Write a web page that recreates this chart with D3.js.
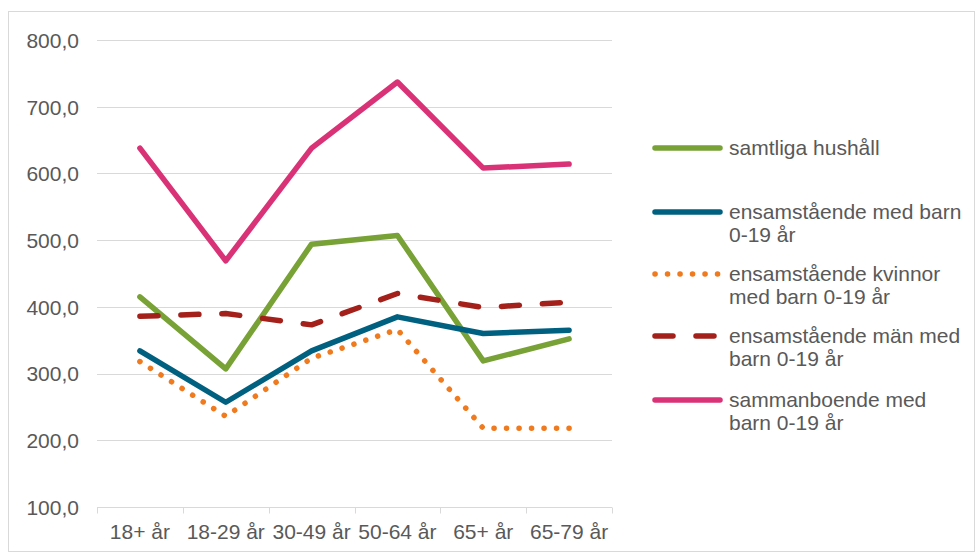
<!DOCTYPE html>
<html>
<head>
<meta charset="utf-8">
<script src="https://cdn.jsdelivr.net/npm/d3@7"></script>
<style>
  html, body { margin: 0; padding: 0; background: #ffffff; }
  svg { display: block; }
  text { font-family: "Liberation Sans", Arial, sans-serif; fill: #595959; }
</style>
</head>
<body>
<svg id="chart" width="976" height="553"></svg>
<script>
// Age groups along the x axis
const categories = ["18+ år", "18-29 år", "30-49 år", "50-64 år", "65+ år", "65-79 år"];

// Y axis tick values
const yTicks = [100, 200, 300, 400, 500, 600, 700, 800];

// Series values per age group
const samtligaHushall      = [415, 307, 494, 507, 319, 352];
const ensamstaendeMedBarn  = [334, 257, 334, 385, 360, 365];
const ensamstaendeKvinnor  = [318, 236, 323, 366, 218, 218];
const ensamstaendeMan      = [386, 390, 373, 420, 399, 407];
const sammanboendeMedBarn  = [638, 469, 638, 737, 608, 614];

const seriesNames = [
  "samtliga hushåll",
  "ensamstående med barn 0-19 år",
  "ensamstående kvinnor med barn 0-19 år",
  "ensamstående män med barn 0-19 år",
  "sammanboende med barn 0-19 år"
];

// Legend labels broken into lines
const legendLines = [
  ["samtliga hushåll"],
  ["ensamstående med barn", "0-19 år"],
  ["ensamstående kvinnor", "med barn 0-19 år"],
  ["ensamstående män med", "barn 0-19 år"],
  ["sammanboende med", "barn 0-19 år"]
];

const series = [
  { name: seriesNames[0], values: samtligaHushall,     color: "#78A136", dash: null },
  { name: seriesNames[1], values: ensamstaendeMedBarn, color: "#006080", dash: null },
  { name: seriesNames[2], values: ensamstaendeKvinnor, color: "#F07A1E", dash: "0.1,12.4" },
  { name: seriesNames[3], values: ensamstaendeMan,     color: "#A3211A", dash: "18,23" },
  { name: seriesNames[4], values: sammanboendeMedBarn, color: "#DA3276", dash: null }
];

const FONT_SIZE = 21;
const svg = d3.select("#chart");

// Outer frame
svg.append("rect")
  .attr("x", 8.5).attr("y", 11.5)
  .attr("width", 966).attr("height", 540)
  .attr("fill", "none")
  .attr("stroke", "#d9d9d9")
  .attr("stroke-width", 1);

const plot = { left: 97, right: 612, top: 40, bottom: 507 };

const x = d3.scaleBand()
  .domain(categories)
  .range([plot.left, plot.right])
  .padding(0);

const y = d3.scaleLinear()
  .domain([100, 800])
  .range([plot.bottom, plot.top]);

const xc = c => x(c) + x.bandwidth() / 2;

// Horizontal gridlines
svg.append("g")
  .selectAll("line")
  .data(yTicks.filter(t => t !== 100))
  .join("line")
  .attr("x1", plot.left).attr("x2", plot.right)
  .attr("y1", d => Math.round(y(d)) + 0.5)
  .attr("y2", d => Math.round(y(d)) + 0.5)
  .attr("stroke", "#d9d9d9")
  .attr("stroke-width", 1);

// Y axis labels
const yAxis = d3.axisLeft(y)
  .tickValues(yTicks)
  .tickSize(0)
  .tickPadding(0)
  .tickFormat(d => d3.format(".1f")(d).replace(".", ","));

const yAxisG = svg.append("g")
  .attr("transform", `translate(${plot.left - 18},0)`)
  .call(yAxis);
yAxisG.select(".domain").remove();
yAxisG.selectAll("text")
  .attr("font-size", FONT_SIZE)
  .attr("font-family", null)
  .attr("dy", "0.35em")
  .style("fill", "#595959");

// X axis line with tick marks between categories
const xAxisY = Math.round(y(100)) + 0.5;
svg.append("line")
  .attr("x1", plot.left).attr("x2", plot.right)
  .attr("y1", xAxisY).attr("y2", xAxisY)
  .attr("stroke", "#d9d9d9").attr("stroke-width", 1);

const boundaries = categories.map(c => x(c)).concat([plot.right]);
svg.append("g")
  .selectAll("line")
  .data(boundaries)
  .join("line")
  .attr("x1", d => Math.round(d) + 0.5).attr("x2", d => Math.round(d) + 0.5)
  .attr("y1", xAxisY).attr("y2", xAxisY + 6)
  .attr("stroke", "#d9d9d9").attr("stroke-width", 1);

svg.append("g")
  .selectAll("text")
  .data(categories)
  .join("text")
  .attr("x", d => xc(d))
  .attr("y", 539)
  .attr("text-anchor", "middle")
  .attr("font-size", FONT_SIZE)
  .text(d => d);

// Series lines
const line = d3.line()
  .x((v, i) => xc(categories[i]))
  .y(v => y(v));

svg.append("g")
  .selectAll("path")
  .data(series)
  .join("path")
  .attr("d", s => line(s.values))
  .attr("fill", "none")
  .attr("stroke", s => s.color)
  .attr("stroke-width", 5.5)
  .attr("stroke-linejoin", "round")
  .attr("stroke-linecap", "round")
  .attr("stroke-dasharray", s => s.dash);

// Legend
const legendY = [148, 212, 274, 336, 400];
const legend = svg.append("g");
series.forEach((s, i) => {
  const g = legend.append("g").attr("transform", `translate(0,${legendY[i]})`);
  g.append("line")
    .attr("x1", 655).attr("x2", 720)
    .attr("y1", 0).attr("y2", 0)
    .attr("stroke", s.color)
    .attr("stroke-width", 5.5)
    .attr("stroke-linecap", "round")
    .attr("stroke-dasharray", s.dash);
  legendLines[i].forEach((t, j) => {
    g.append("text")
      .attr("x", 729)
      .attr("y", j * 23)
      .attr("dy", "0.35em")
      .attr("font-size", FONT_SIZE)
      .text(t);
  });
});
</script>
</body>
</html>
